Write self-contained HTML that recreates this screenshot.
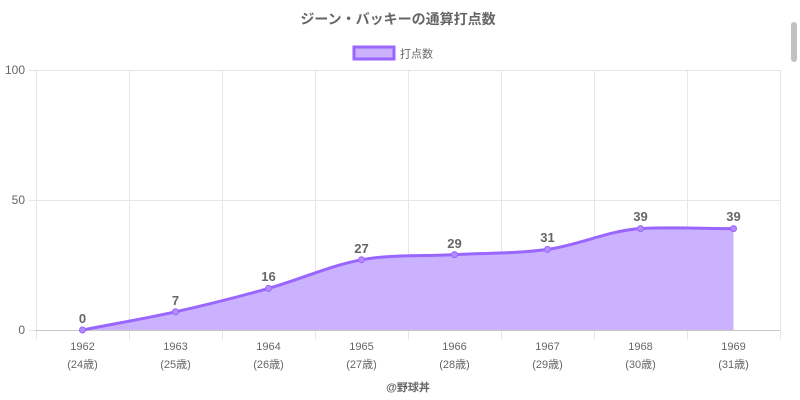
<!DOCTYPE html>
<html><head><meta charset="utf-8"><style>
html,body{margin:0;padding:0;background:#fff;width:800px;height:400px;overflow:hidden}
svg text{font-family:"Liberation Sans","Noto Sans CJK JP",sans-serif}
</style></head><body>
<svg width="800" height="400" viewBox="0 0 800 400">
<text x="398" y="24" text-anchor="middle" font-size="14" font-weight="bold" fill="#666">ジーン・バッキーの通算打点数</text>
<rect x="354" y="47" width="40" height="12" fill="#cbb2fe" stroke="#9966ff" stroke-width="3"/>
<text x="400" y="57.5" font-size="11" fill="#666">打点数</text>
<g stroke="#e6e6e6" stroke-width="1">
<line x1="36" y1="70.5" x2="780" y2="70.5"/>
<line x1="36" y1="200.5" x2="780" y2="200.5"/>
<line x1="29" y1="70.5" x2="36" y2="70.5"/>
<line x1="29" y1="200.5" x2="36" y2="200.5"/>
<line x1="29" y1="330.5" x2="36" y2="330.5"/>
<line x1="36.5" y1="70" x2="36.5" y2="340"/>
<line x1="129.5" y1="70" x2="129.5" y2="340"/>
<line x1="222.5" y1="70" x2="222.5" y2="340"/>
<line x1="315.5" y1="70" x2="315.5" y2="340"/>
<line x1="408.5" y1="70" x2="408.5" y2="340"/>
<line x1="501.5" y1="70" x2="501.5" y2="340"/>
<line x1="594.5" y1="70" x2="594.5" y2="340"/>
<line x1="687.5" y1="70" x2="687.5" y2="340"/>
<line x1="780.5" y1="70" x2="780.5" y2="340"/>
</g>
<line x1="36" y1="330.5" x2="780" y2="330.5" stroke="#c8c8c8"/>
<g font-size="12" fill="#666" text-anchor="end">
<text x="25" y="74">100</text><text x="25" y="204">50</text><text x="25" y="334">0</text>
</g>
<path d="M82.5,330 C113.5,323.9 144.5,318.7 175.5,311.8 C206.5,304.9 237.5,297.1 268.5,288.4 C299.5,279.7 330.5,265.4 361.5,259.8 C392.5,254.2 423.5,256.3 454.5,254.6 C485.5,252.9 516.5,253.7 547.5,249.4 C578.5,245.1 609.5,230.3 640.5,228.6 C671.5,226.9 702.5,228.6 733.5,228.6 L733.5,330 Z" fill="#cbb2fe"/>
<path d="M82.5,330 C113.5,323.9 144.5,318.7 175.5,311.8 C206.5,304.9 237.5,297.1 268.5,288.4 C299.5,279.7 330.5,265.4 361.5,259.8 C392.5,254.2 423.5,256.3 454.5,254.6 C485.5,252.9 516.5,253.7 547.5,249.4 C578.5,245.1 609.5,230.3 640.5,228.6 C671.5,226.9 702.5,228.6 733.5,228.6" fill="none" stroke="#9966ff" stroke-width="3"/>
<g fill="#b48cff" stroke="#9966ff" stroke-width="1">
<circle cx="82.5" cy="330" r="3"/><circle cx="175.5" cy="311.8" r="3"/><circle cx="268.5" cy="288.4" r="3"/><circle cx="361.5" cy="259.8" r="3"/><circle cx="454.5" cy="254.6" r="3"/><circle cx="547.5" cy="249.4" r="3"/><circle cx="640.5" cy="228.6" r="3"/><circle cx="733.5" cy="228.6" r="3"/>
</g>
<g font-size="13" font-weight="bold" fill="#666" text-anchor="middle">
<text x="82.5" y="323">0</text><text x="175.5" y="305">7</text><text x="268.5" y="281">16</text><text x="361.5" y="253">27</text><text x="454.5" y="248">29</text><text x="547.5" y="242">31</text><text x="640.5" y="221">39</text><text x="733.5" y="221">39</text>
</g>
<g font-size="11" fill="#666" text-anchor="middle">
<text x="82.5" y="350">1962</text><text x="82.5" y="368">(24歳)</text>
<text x="175.5" y="350">1963</text><text x="175.5" y="368">(25歳)</text>
<text x="268.5" y="350">1964</text><text x="268.5" y="368">(26歳)</text>
<text x="361.5" y="350">1965</text><text x="361.5" y="368">(27歳)</text>
<text x="454.5" y="350">1966</text><text x="454.5" y="368">(28歳)</text>
<text x="547.5" y="350">1967</text><text x="547.5" y="368">(29歳)</text>
<text x="640.5" y="350">1968</text><text x="640.5" y="368">(30歳)</text>
<text x="733.5" y="350">1969</text><text x="733.5" y="368">(31歳)</text>
</g>
<text x="408" y="391" text-anchor="middle" font-size="11" font-weight="bold" fill="#666">@野球丼</text>
<rect x="791" y="22" width="6" height="40" rx="3" fill="#c1c1c1"/>
</svg>
</body></html>
